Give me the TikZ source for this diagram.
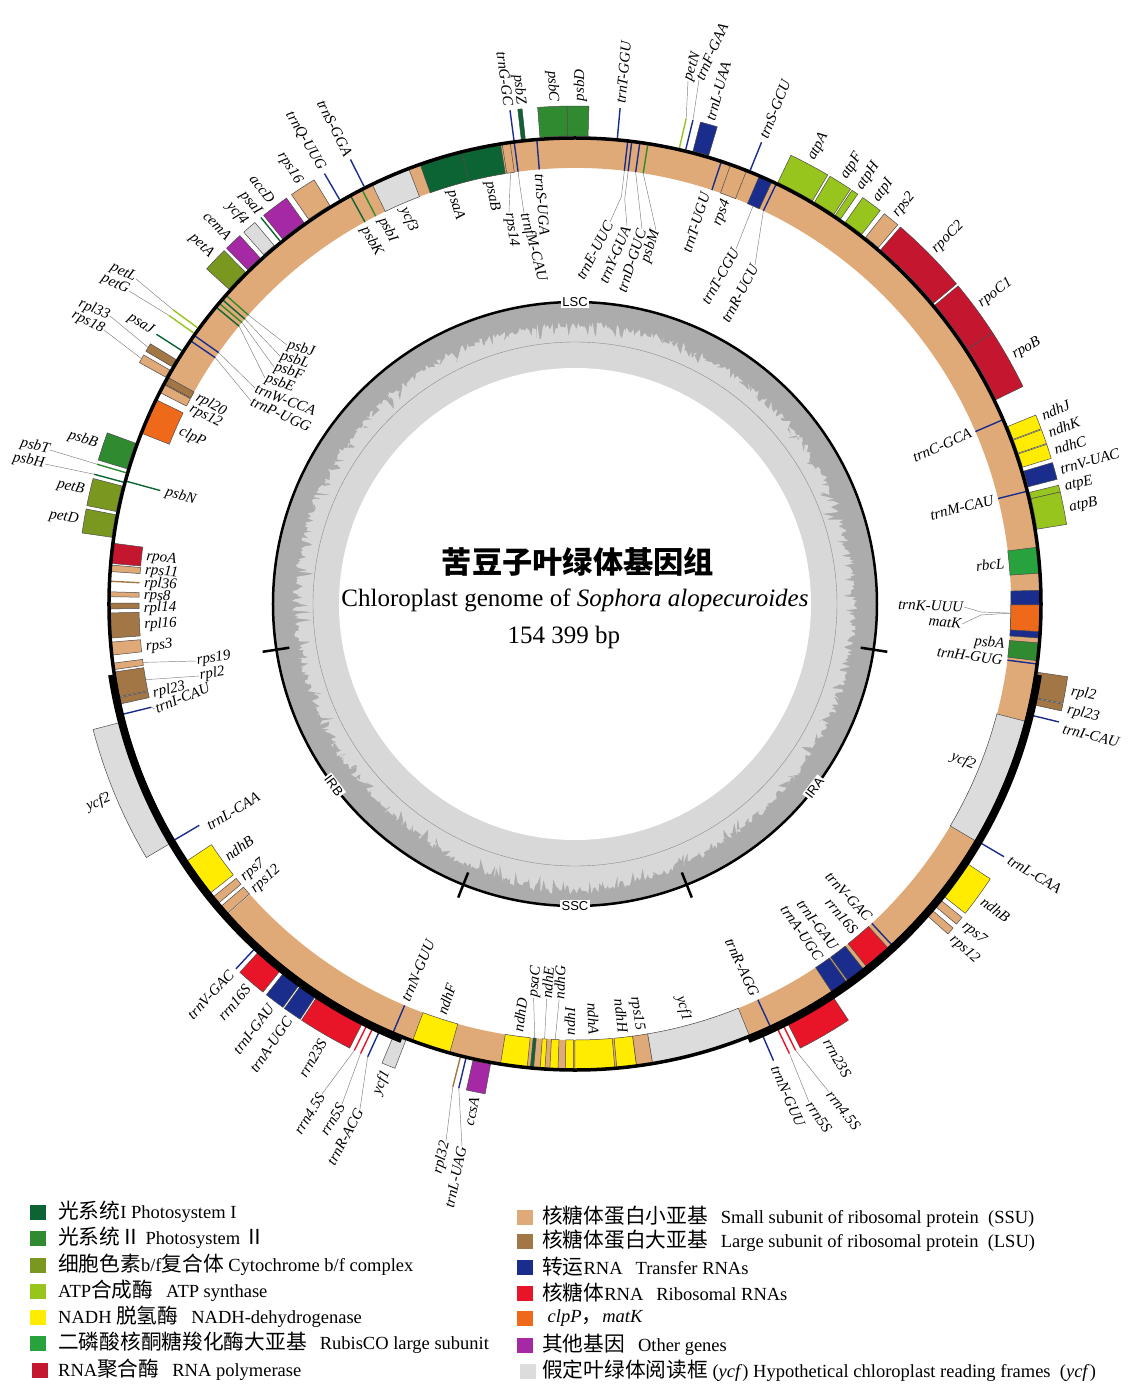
\documentclass[tikz,border=0pt]{standalone}
\usepackage{fontspec}
\setmainfont{Liberation Serif}
\newfontfamily\cjk[Scale=1.12]{Noto Sans CJK SC}
\newfontfamily\sanslab{Liberation Sans}
\definecolor{cPSI}{RGB}{12,100,52}
\definecolor{cPSII}{RGB}{48,138,48}
\definecolor{cCYT}{RGB}{122,152,32}
\definecolor{cATP}{RGB}{152,196,30}
\definecolor{cNDH}{RGB}{255,236,0}
\definecolor{cRBC}{RGB}{40,162,60}
\definecolor{cRPO}{RGB}{196,22,46}
\definecolor{cSSU}{RGB}{223,170,120}
\definecolor{cLSU}{RGB}{163,118,70}
\definecolor{cTRN}{RGB}{26,45,140}
\definecolor{cRRN}{RGB}{232,20,40}
\definecolor{cCLP}{RGB}{238,105,25}
\definecolor{cOTH}{RGB}{165,40,165}
\definecolor{cYCF}{RGB}{220,220,220}
\definecolor{cBAND}{RGB}{223,170,120}
\definecolor{gcdark}{RGB}{172,172,172}
\definecolor{gclight}{RGB}{216,216,216}
\tikzset{
  gene/.style={draw=black!70, line width=0.5pt},
  lbl/.style={font=\fontsize{15}{15}\selectfont\itshape, inner sep=0.6pt},
  leader/.style={draw=black!50, line width=0.45pt},
  legsq/.style={minimum width=16pt, minimum height=15pt, inner sep=0pt},
  legtxt/.style={font=\fontsize{18.5}{20}\selectfont, inner sep=0pt, anchor=west},
  seglab/.style={font=\sanslab\fontsize{13}{13}\selectfont, fill=white, inner sep=1.5pt},
}
% outer gene box: colour, clock start, clock end
\newcommand\geneOut[3]{\filldraw[gene, fill=#1] ({90-(#2)}:468pt) arc[start angle={90-(#2)}, end angle={90-(#3)}, radius=468pt] -- ({90-(#3)}:498pt) arc[start angle={90-(#3)}, end angle={90-(#2)}, radius=498pt] -- cycle;}
% inner gene box
\newcommand\geneIn[3]{\filldraw[gene, fill=#1] ({90-(#2)}:436pt) arc[start angle={90-(#2)}, end angle={90-(#3)}, radius=436pt] -- ({90-(#3)}:466pt) arc[start angle={90-(#3)}, end angle={90-(#2)}, radius=466pt] -- cycle;}
\newcommand\lineOut[2]{\draw[#1, line width=1.4pt] ({90-(#2)}:468pt) -- ({90-(#2)}:498pt);}
\newcommand\lineIn[2]{\draw[#1, line width=1.4pt] ({90-(#2)}:436pt) -- ({90-(#2)}:466pt);}
% radial label: name, clock, radius, anchor, text
\newcommand\glab[5]{\node[lbl, anchor=#4, rotate={(#2<180) ? (90-(#2)) : (270-(#2))}] (#1) at ({90-(#2)}:#3pt) {#5};}
% placed label: name, px, py, rotation, anchor, text
\newcommand\plab[6]{\node[lbl, anchor=#5, rotate=#4] (#1) at ({#2-575},{604-#3}) {#6};}
% leader: coordinate name, clock, radius, target
\newcommand\ld[4]{\coordinate (#1) at ({90-(#2)}:#3pt); \draw[leader] (#1) -- (#4);}
\newcommand\ldk[5]{\coordinate (#1) at ({90-(#2)}:#3pt); \draw[leader] (#1) -- ({90-(#2)}:#4pt) -- (#5);}

\begin{document}
\begin{tikzpicture}[x=1pt, y=1pt]
\useasboundingbox (-575,-794) rectangle (553,604);
\fill[white] (-575,-794) rectangle (553,604);

% ---------- GC content ring ----------
\pgfmathsetseed{4217}
\fill[gcdark] (0,0) circle[radius=302pt];
\fill[gclight] plot[domain=0:360, samples=1081, variable=\t] (\t:{302-19-7*rnd-16*pow(rnd,6)+8*exp(-1*pow((\t-270)/22,2))}) -- cycle;
\fill[white] (0,0) circle[radius=236pt];
\draw[black!45, line width=0.4pt] (0,0) circle[radius=262pt];
\draw[line width=2.5pt] (0,0) circle[radius=302pt];
\foreach \c in {98.7,158.3,201.7,261.3} \draw[line width=2.5pt] ({90-\c}:289pt) -- ({90-\c}:316pt);
\node[seglab] (sLSC) at (90:302pt) {LSC};
\node[seglab] (sSSC) at (-90:302pt) {SSC};
\node[seglab, rotate=52.5] (sIRA) at ({90-127.5}:302pt) {IRA};
\node[seglab, rotate=-53] (sIRB) at ({90-233}:302pt) {IRB};

% ---------- tan band ----------
\fill[cBAND] ({90-297}:436pt) arc[start angle={90-297}, end angle={90-588.2}, radius=436pt] -- ({90-588.2}:466pt) arc[start angle={90-588.2}, end angle={90-297}, radius=466pt] -- cycle;

% ---------- inner genes ----------
\lineIn{cTRN}{355.3}
\lineIn{cTRN}{352.5}
\geneIn{cSSU}{351.0}{352.0}
\geneIn{cPSI}{345.9}{350.8}
\geneIn{cPSI}{340.6}{345.9}
\geneIn{cYCF}{334.2}{339.1}
\lineIn{cPSII}{332.8}
\lineIn{cPSI}{331.2}
\lineIn{cPSII}{311.5}
\lineIn{cPSI}{310.8}
\lineIn{cPSII}{310.2}
\lineIn{cPSI}{309.6}
\lineIn{cTRN}{305.2}
\lineIn{cTRN}{304.4}
\geneIn{cLSU}{298.2}{299.1}
\geneIn{cSSU}{297.0}{298.1}
\geneIn{cCLP}{291.5}{296.0}
\draw[cPSI, line width=1.4pt] ({90-285.3}:430pt) -- ({90-285.3}:466pt);
\geneIn{cRPO}{275.0}{277.5}
\geneIn{cSSU}{274.0}{274.8}
\lineIn{cLSU}{272.8}
\geneIn{cSSU}{270.9}{271.5}
\geneIn{cLSU}{269.4}{270.1}
\geneIn{cLSU}{265.8}{268.9}
\geneIn{cSSU}{263.7}{265.3}
\geneIn{cSSU}{261.9}{262.7}
\geneIn{cLSU}{258.5}{261.6}
\geneIn{cLSU}{257.6}{258.4}
\lineIn{cTRN}{256.3}
\lineIn{cTRN}{239.5}
\geneIn{cNDH}{231.6}{236.5}
\geneIn{cSSU}{230.0}{231.0}
\geneIn{cSSU}{228.3}{229.5}
\lineIn{cTRN}{203.0}
\geneIn{cNDH}{195.6}{200.4}
\geneIn{cNDH}{185.9}{189.2}
\geneIn{cPSI}{185.1}{185.5}
\geneIn{cNDH}{183.7}{184.3}
\geneIn{cNDH}{182.1}{183.1}
\geneIn{cNDH}{180.2}{181.2}
\geneIn{cNDH}{175.1}{180.0}
\geneIn{cNDH}{172.4}{174.85}
\geneIn{cSSU}{170.4}{172.4}
\geneIn{cYCF}{158.0}{170.4}
\lineIn{cTRN}{155.2}
\geneIn{cTRN}{144.3}{146.5}
\geneIn{cTRN}{141.7}{144.1}
\geneIn{cRRN}{137.7}{141.2}
\lineIn{cTRN}{137.1}
\geneIn{cYCF}{104.6}{120.6}
\lineIn{cTRN}{97.4}
\geneIn{cPSII}{94.8}{97.0}
\geneIn{cTRN}{88.3}{94.2}
\geneIn{cCLP}{90.1}{93.4}
\geneIn{cRBC}{83.0}{86.2}
\lineIn{cTRN}{76.0}
\lineIn{cTRN}{66.7}
\lineIn{cTRN}{25.6}
\geneIn{cTRN}{23.3}{25.0}
\geneIn{cSSU}{19.5}{21.6}
\lineIn{cTRN}{18.3}
\lineIn{cPSII}{9.0}
\lineIn{cTRN}{8.0}
\lineIn{cTRN}{7.0}
\lineIn{cTRN}{6.5}

% ---------- outer genes ----------
\geneOut{cPSII}{-4.3}{-0.9}
\geneOut{cPSII}{-0.9}{1.6}
\geneOut{cPSI}{-6.6}{-6.1}
\lineOut{cTRN}{-7.5}
\lineOut{cTRN}{5.2}
\lineOut{cATP}{12.9}
\lineOut{cTRN}{13.7}
\geneOut{cTRN}{14.6}{16.6}
\lineOut{cTRN}{22.0}
\geneOut{cATP}{25.7}{30.5}
\geneOut{cATP}{30.8}{33.6}
\geneOut{cATP}{33.8}{34.6}
\geneOut{cATP}{35.3}{37.8}
\geneOut{cSSU}{38.4}{40.4}
\geneOut{cRPO}{40.8}{50.0}
\geneOut{cRPO}{50.3}{57.0}
\geneOut{cRPO}{57.0}{64.1}
\geneOut{cNDH}{67.7}{69.4}
\geneOut{cNDH}{69.5}{71.2}
\geneOut{cNDH}{71.3}{73.0}
\geneOut{cTRN}{73.5}{75.5}
\geneOut{cATP}{76.2}{77.0}
\geneOut{cATP}{77.0}{80.8}
\geneOut{cLSU}{98.4}{101.5}
\geneOut{cLSU}{101.6}{102.4}
\lineOut{cTRN}{103.7}
\lineOut{cTRN}{120.5}
\geneOut{cNDH}{123.5}{128.4}
\geneOut{cSSU}{129.0}{130.0}
\geneOut{cSSU}{130.6}{131.5}
\geneOut{cRRN}{146.7}{153.1}
\lineOut{cRRN}{153.7}
\lineOut{cRRN}{154.5}
\lineOut{cTRN}{156.5}
\geneOut{cOTH}{190.4}{192.6}
\lineOut{cTRN}{193.5}
\lineOut{cLSU}{194.2}
\geneOut{cYCF}{201.2}{202.8}
\lineOut{cTRN}{204.6}
\lineOut{cRRN}{205.5}
\lineOut{cRRN}{206.3}
\geneOut{cRRN}{206.9}{213.3}
\geneOut{cTRN}{213.5}{215.7}
\geneOut{cTRN}{215.9}{218.3}
\geneOut{cRRN}{218.8}{222.3}
\lineOut{cTRN}{222.9}
\geneOut{cYCF}{239.4}{255.4}
\geneOut{cCYT}{278.2}{281.0}
\geneOut{cCYT}{281.4}{284.6}
\lineOut{cPSI}{285.1}
\lineOut{cPSII}{286.3}
\geneOut{cPSII}{286.8}{290.1}
\geneOut{cSSU}{299.0}{300.0}
\geneOut{cLSU}{300.5}{301.5}
\lineOut{cPSI}{302.8}
\lineOut{cATP}{305.4}
\lineOut{cATP}{306.2}
\geneOut{cCYT}{312.3}{315.2}
\geneOut{cOTH}{315.6}{317.7}
\geneOut{cYCF}{318.3}{320.0}
\lineOut{cPSI}{320.9}
\geneOut{cOTH}{321.3}{324.6}
\geneOut{cSSU}{325.3}{328.4}
\lineOut{cTRN}{329.8}
\lineOut{cTRN}{333.2}

% ---------- main ring ----------
\draw[line width=3.5pt] (0,0) circle[radius=466pt];
\draw[line width=7.5pt] ({90-98.7}:468.5pt) arc[start angle={90-98.7}, end angle={90-158.3}, radius=468.5pt];
\draw[line width=7.5pt] ({90-201.7}:468.5pt) arc[start angle={90-201.7}, end angle={90-261.3}, radius=468.5pt];

% ---------- outer radial labels ----------
\glab{L-psbZ}{353.8}{502}{east}{psbZ}
\glab{L-trnGGC}{352.4}{502}{east}{trnG-GC}
\glab{L-psbC}{357.5}{502}{east}{psbC}
\glab{L-psbD}{0.6}{502}{west}{psbD}
\glab{L-trnTGGU}{5.2}{502}{west}{trnT-GGU}
\glab{L-trnLUAA}{15.6}{502}{west}{trnL-UAA}
\glab{L-trnSGCU}{22.0}{502}{west}{trnS-GCU}
\glab{L-atpA}{28.0}{503}{west}{atpA}
\glab{L-atpF}{32.3}{503}{west}{atpF}
\glab{L-atpH}{34.4}{503}{west}{atpH}
\glab{L-atpI}{36.7}{503}{west}{atpI}
\glab{L-rps2}{39.5}{503}{west}{rps2}
\glab{L-rpoC2}{45.5}{503}{west}{rpoC2}
\glab{L-rpoC1}{53.5}{503}{west}{rpoC1}
\glab{L-rpoB}{60.5}{503}{west}{rpoB}
\glab{L-ndhJ}{68.0}{503}{west}{ndhJ}
\glab{L-ndhK}{70.1}{503}{west}{ndhK}
\glab{L-ndhC}{72.2}{503}{west}{ndhC}
\glab{L-trnVUAC}{74.5}{503}{west}{trnV-UAC}
\glab{L-atpE}{76.6}{503}{west}{atpE}
\glab{L-atpB}{79.0}{503}{west}{atpB}
\glab{L-rpl2a}{100.0}{503}{west}{rpl2}
\glab{L-rpl23a}{102.2}{503}{west}{rpl23}
\glab{L-trnICAUa}{104.3}{503}{west}{trnI-CAU}
\glab{L-trnLCAAa}{120.5}{503}{west}{trnL-CAA}
\glab{L-ndhBa}{126.0}{503}{west}{ndhB}
\glab{L-rps7a}{129.5}{503}{west}{rps7}
\glab{L-rps12a}{131.6}{503}{west}{rps12}
\glab{L-rrn23Sa}{150.0}{503}{west}{rrn23S}
\glab{L-trnNGUUa}{156.6}{503}{west}{trnN-GUU}
\glab{L-ccsA}{191.5}{503}{east}{ccsA}
\glab{L-ycf1b}{202.0}{503}{east}{ycf1}
\glab{L-rrn23Sb}{210.0}{503}{east}{rrn23S}
\glab{L-trnAUGCb}{214.6}{503}{east}{trnA-UGC}
\glab{L-trnIGAUb}{217.1}{503}{east}{trnI-GAU}
\glab{L-rrn16Sb}{220.5}{503}{east}{rrn16S}
\glab{L-trnVGACb}{223.0}{503}{east}{trnV-GAC}
\glab{L-ycf2b}{247.4}{503}{east}{ycf2}
\glab{L-petD}{279.6}{503}{east}{petD}
\glab{L-petB}{283.0}{503}{east}{petB}
\glab{L-psbB}{288.5}{503}{east}{psbB}
\glab{L-psaJ}{302.8}{502}{east}{psaJ}
\glab{L-petA}{313.8}{503}{east}{petA}
\glab{L-cemA}{316.6}{503}{east}{cemA}
\glab{L-ycf4}{319.1}{503}{east}{ycf4}
\glab{L-psaI}{321.0}{502}{east}{psaI}
\glab{L-accD}{323.0}{503}{east}{accD}
\glab{L-rps16}{326.8}{503}{east}{rps16}
\glab{L-trnQUUG}{329.8}{502}{east}{trnQ-UUG}
\glab{L-trnSGGA}{333.2}{502}{east}{trnS-GGA}

% ---------- inner radial labels ----------
\glab{L-trnSUGA}{355.3}{432}{west}{trnS-UGA}
\glab{L-psaB}{348.5}{432}{west}{psaB}
\glab{L-psaA}{343.3}{432}{west}{psaA}
\glab{L-ycf3}{336.6}{432}{west}{ycf3}
\glab{L-psbI}{333.4}{432}{west}{psbI}
\glab{L-psbK}{330.7}{432}{west}{psbK}
\glab{L-rpl20}{298.7}{432}{west}{rpl20}
\glab{L-rps12c}{296.9}{432}{west}{rps12}
\glab{L-clpP}{293.6}{432}{west}{clpP}
\glab{L-psbN}{285.3}{425}{west}{psbN}
\glab{L-rpoA}{276.3}{432}{west}{rpoA}
\glab{L-rps11}{274.4}{432}{west}{rps11}
\glab{L-rpl36}{272.7}{432}{west}{rpl36}
\glab{L-rps8}{271.0}{432}{west}{rps8}
\glab{L-rpl14}{269.4}{432}{west}{rpl14}
\glab{L-rpl16}{267.2}{432}{west}{rpl16}
\glab{L-rps3}{264.2}{432}{west}{rps3}
\glab{L-rpl23b}{258.0}{432}{west}{rpl23}
\glab{L-trnLCAAb}{238.8}{430}{west}{trnL-CAA}
\glab{L-ndhBb}{234.0}{432}{west}{ndhB}
\glab{L-rps7b}{230.4}{432}{west}{rps7}
\glab{L-rps12b}{228.3}{432}{west}{rps12}
\glab{L-trnNGUUb}{203.2}{432}{west}{trnN-GUU}
\glab{L-ndhF}{198.0}{432}{west}{ndhF}
\glab{L-ndhD}{187.6}{432}{west}{ndhD}
\glab{L-psaC}{186.0}{396}{west}{psaC}
\glab{L-ndhE}{184.1}{396}{west}{ndhE}
\glab{L-ndhG}{182.3}{396}{west}{ndhG}
\glab{L-ndhI}{180.7}{432}{west}{ndhI}
\glab{L-ndhA}{177.5}{432}{east}{ndhA}
\glab{L-ndhH}{173.6}{432}{east}{ndhH}
\glab{L-rps15}{171.4}{432}{east}{rps15}
\glab{L-ycf1a}{165.0}{432}{east}{ycf1}
\glab{L-trnRAGG}{155.3}{432}{east}{trnR-AGG}
\glab{L-trnAUGCa}{145.4}{432}{east}{trnA-UGC}
\glab{L-trnIGAUa}{142.9}{432}{east}{trnI-GAU}
\glab{L-rrn16Sa}{139.5}{432}{east}{rrn16S}
\glab{L-trnVGACa}{136.9}{432}{east}{trnV-GAC}
\glab{L-ycf2a}{112.0}{432}{east}{ycf2}
\glab{L-trnHGUG}{97.5}{432}{east}{trnH-GUG}
\glab{L-psbA}{95.4}{432}{east}{psbA}
\glab{L-rbcL}{84.6}{432}{east}{rbcL}
\glab{L-trnMCAU}{76.0}{432}{east}{trnM-CAU}
\glab{L-trnCGCA}{66.6}{432}{east}{trnC-GCA}
\glab{L-rps4}{20.6}{432}{east}{rps4}
\glab{L-trnTUGU}{17.6}{432}{east}{trnT-UGU}

% ---------- fanned labels ----------
\plab{L-trnEUUC}{610}{222}{62}{east}{trnE-UUC}
\plab{L-trnYGUA}{627}{226}{67}{east}{trnY-GUA}
\plab{L-trnDGUC}{642}{229}{72}{east}{trnD-GUC}
\plab{L-psbM}{656}{230}{72}{east}{psbM}
\plab{L-trnTCGU}{736}{249}{60}{east}{trnT-CGU}
\plab{L-trnRUCU}{755}{265}{62}{east}{trnR-UCU}
\plab{L-petN}{688}{81}{72}{west}{petN}
\plab{L-trnFGAA}{699}{80}{66}{west}{trnF-GAA}
\plab{L-rps14}{509}{212}{-82}{west}{rps14}
\plab{L-trnfMCAU}{524}{213}{-75}{west}{trnfM-CAU}
\plab{L-petL}{136}{279}{-26}{east}{petL}
\plab{L-petG}{129}{291}{-26}{east}{petG}
\plab{L-rpl33}{110}{316}{-22}{east}{rpl33}
\plab{L-rps18}{104}{330}{-26}{east}{rps18}
\plab{L-psbJ}{287}{345}{-15}{west}{psbJ}
\plab{L-psbL}{280}{356}{-17}{west}{psbL}
\plab{L-psbF}{274}{367}{-18}{west}{psbF}
\plab{L-psbE}{265}{378}{-20}{west}{psbE}
\plab{L-trnWCCA}{255}{388}{-21}{west}{trnW-CCA}
\plab{L-trnPUGG}{251}{401}{-24}{west}{trnP-UGG}
\plab{L-psbT}{50}{450}{-13}{east}{psbT}
\plab{L-psbH}{45}{464}{-11}{east}{psbH}
\plab{L-rps19}{196}{661}{8}{west}{rps19}
\plab{L-rpl2b}{199}{676}{9}{west}{rpl2}
\plab{L-trnICAUb}{155}{709}{22}{west}{trnI-CAU}
\plab{L-trnKUUU}{964}{607}{-2}{east}{trnK-UUU}
\plab{L-matK}{962}{624}{-5}{east}{matK}
\plab{L-rrn45Sb}{322}{1094}{58}{east}{rrn4.5S}
\plab{L-rrn5Sb}{342}{1104}{58}{east}{rrn5S}
\plab{L-trnRACG}{360}{1109}{62}{east}{trnR-ACG}
\plab{L-rpl32}{446}{1141}{76}{east}{rpl32}
\plab{L-trnLUAG}{462}{1146}{78}{east}{trnL-UAG}
\plab{L-rrn5Sa}{809}{1102}{-56}{west}{rrn5S}
\plab{L-rrn45Sa}{829}{1092}{-52}{west}{rrn4.5S}

% ---------- leaders ----------
\ldk{g-trnEUUC}{6.5}{436}{410}{L-trnEUUC.east}
\ldk{g-trnYGUA}{7.0}{436}{408}{L-trnYGUA.east}
\ld{g-trnDGUC}{8.0}{436}{L-trnDGUC.east}
\ld{g-psbM}{9.0}{436}{L-psbM.east}
\ld{g-trnTCGU}{24.1}{436}{L-trnTCGU.east}
\ld{g-trnRUCU}{25.6}{436}{L-trnRUCU.east}
\ld{g-petN}{12.9}{498}{L-petN.west}
\ld{g-trnFGAA}{13.7}{498}{L-trnFGAA.west}
\ld{g-rps14}{351.5}{436}{L-rps14.west}
\ldk{g-trnfM}{352.5}{436}{420}{L-trnfMCAU.west}
\ld{g-petL}{306.2}{498}{L-petL.east}
\ld{g-petG}{305.4}{498}{L-petG.east}
\ld{g-rpl33}{301.0}{498}{L-rpl33.east}
\ld{g-rps18}{299.5}{498}{L-rps18.east}
\ld{g-psbJ}{311.5}{436}{L-psbJ.west}
\ld{g-psbL}{310.8}{436}{L-psbL.west}
\ld{g-psbF}{310.2}{436}{L-psbF.west}
\ld{g-psbE}{309.6}{436}{L-psbE.west}
\ld{g-trnW}{305.2}{436}{L-trnWCCA.west}
\ld{g-trnP}{304.4}{436}{L-trnPUGG.west}
\ld{g-psbT}{286.3}{498}{L-psbT.east}
\ld{g-psbH}{285.1}{498}{L-psbH.east}
\ld{g-rps19}{262.3}{436}{L-rps19.west}
\ld{g-rpl2b}{260.0}{436}{L-rpl2b.west}
\ld{g-trnICAUb}{256.3}{436}{L-trnICAUb.west}
\coordinate (g-trnK) at ({90-91.2}:436pt);
\draw[leader] (L-trnKUUU.east) -- (406,-8) -- (g-trnK);
\draw[leader] (L-matK.east) -- (406,-11) -- (g-trnK);
\ld{g-rrn45Sb}{206.3}{498}{L-rrn45Sb.east}
\ld{g-rrn5Sb}{205.5}{498}{L-rrn5Sb.east}
\ld{g-trnRACG}{204.6}{498}{L-trnRACG.east}
\ld{g-rpl32}{194.2}{498}{L-rpl32.east}
\ld{g-trnLUAG}{193.5}{498}{L-trnLUAG.east}
\ld{g-rrn5Sa}{154.5}{498}{L-rrn5Sa.west}
\ld{g-rrn45Sa}{153.7}{498}{L-rrn45Sa.west}
\ld{g-psaC}{185.3}{436}{L-psaC.west}
\ld{g-ndhE}{184.0}{436}{L-ndhE.west}
\ld{g-ndhG}{182.6}{436}{L-ndhG.west}

% ---------- centre text ----------
\node[font=\cjk\bfseries\fontsize{27}{27}\selectfont, inner sep=0pt] (title) at (3,42) {苦豆子叶绿体基因组};
\node[font=\fontsize{25}{25}\selectfont, inner sep=0pt] (subtitle) at (0,4) {Chloroplast genome of \textit{Sophora alopecuroides}};
\node[font=\fontsize{25}{25}\selectfont, inner sep=0pt] (size) at (-11,-33) {154 399 bp};

% ---------- legend ----------
\node[legsq, fill=cPSI] (k1) at (-537,-608) {};
\node[legtxt] (t1) at (-517,-608) {{\cjk 光系统}I Photosystem I};
\node[legsq, fill=cPSII] (k2) at (-537,-634) {};
\node[legtxt] (t2) at (-517,-634) {{\cjk 光系统Ⅱ} Photosystem {\cjk Ⅱ}};
\node[legsq, fill=cCYT] (k3) at (-537,-661) {};
\node[legtxt] (t3) at (-517,-661) {{\cjk 细胞色素}b/f{\cjk 复合体} Cytochrome b/f complex};
\node[legsq, fill=cATP] (k4) at (-537,-687) {};
\node[legtxt] (t4) at (-517,-687) {ATP{\cjk 合成酶}\hspace{0.7em}ATP synthase};
\node[legsq, fill=cNDH] (k5) at (-537,-713) {};
\node[legtxt] (t5) at (-517,-713) {NADH {\cjk 脱氢酶}\hspace{0.7em}NADH-dehydrogenase};
\node[legsq, fill=cRBC] (k6) at (-537,-739) {};
\node[legtxt] (t6) at (-517,-739) {{\cjk 二磷酸核酮糖羧化酶大亚基}\hspace{0.7em}RubisCO large subunit};
\node[legsq, fill=cRPO] (k7) at (-535,-766) {};
\node[legtxt] (t7) at (-517,-766) {RNA{\cjk 聚合酶}\hspace{0.7em}RNA polymerase};

\node[legsq, fill=cSSU] (k8) at (-50,-613) {};
\node[legtxt] (t8) at (-33,-613) {{\cjk 核糖体蛋白小亚基}\hspace{0.7em}Small subunit of ribosomal protein\hspace{0.5em}(SSU)};
\node[legsq, fill=cLSU] (k9) at (-50,-637) {};
\node[legtxt] (t9) at (-33,-637) {{\cjk 核糖体蛋白大亚基}\hspace{0.7em}Large subunit of ribosomal protein\hspace{0.5em}(LSU)};
\node[legsq, fill=cTRN] (k10) at (-50,-663) {};
\node[legtxt] (t10) at (-33,-663) {{\cjk 转运}RNA\hspace{0.7em}Transfer RNAs};
\node[legsq, fill=cRRN] (k11) at (-50,-689) {};
\node[legtxt] (t11) at (-33,-689) {{\cjk 核糖体}RNA\hspace{0.7em}Ribosomal RNAs};
\node[legsq, fill=cCLP] (k12) at (-50,-714) {};
\node[legtxt] (t12) at (-33,-714) {\hspace{0.3em}\textit{clpP}{\cjk ，}\textit{matK}};
\node[legsq, fill=cOTH] (k13) at (-50,-741) {};
\node[legtxt] (t13) at (-33,-741) {{\cjk 其他基因}\hspace{0.7em}Other genes};
\node[legsq, fill=cYCF] (k14) at (-47,-767) {};
\node[legtxt] (t14) at (-33,-767) {{\cjk 假定叶绿体阅读框} (\textit{ycf}) Hypothetical chloroplast reading frames\hspace{0.5em}(\textit{ycf})};
\end{tikzpicture}
\end{document}
